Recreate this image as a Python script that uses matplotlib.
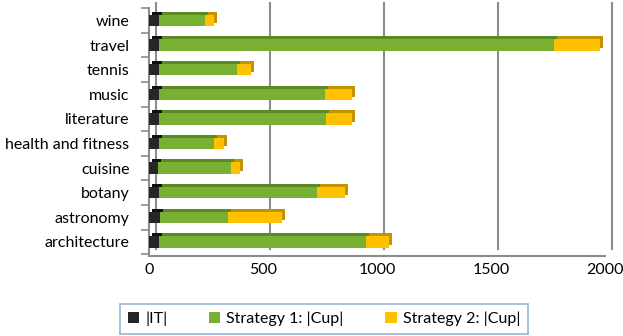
import matplotlib
matplotlib.use("Agg")
import matplotlib.pyplot as plt
import matplotlib.transforms as mtransforms
import numpy as np

categories = ["architecture", "astronomy", "botany", "cuisine", "health and fitness",
              "literature", "music", "tennis", "travel", "wine"]
it_vals = [45, 50, 45, 40, 45, 45, 45, 45, 45, 45]
s1_vals = [907, 296, 692, 318, 240, 732, 728, 342, 1731, 199]
s2_vals = [100, 238, 121, 41, 46, 115, 117, 62, 204, 40]
x_ticks = [0, 500, 1000, 1500, 2000]
series_names = ["|IT|", "Strategy 1: |Cup|", "Strategy 2: |Cup|"]

plt.rcParams['font.family'] = ['Lato', 'DejaVu Sans']

fig = plt.figure(figsize=(6.23, 3.36), dpi=100)
ax = fig.add_axes([0.239, 0.238, 0.732, 0.738])

y = np.arange(len(categories))
h = 0.46
it = np.array(it_vals); s1 = np.array(s1_vals); s2 = np.array(s2_vals)

front = [("#262626", "#111111"), ("#77b032", "#5b8a24"), ("#ffc000", "#c49400")]
lefts = [np.zeros_like(it), it, it + s1]
widths = [it, s1, s2]

back = ax.transData + mtransforms.ScaledTranslation(3/100, 3/100, fig.dpi_scale_trans)
grid_off = ax.transData + mtransforms.ScaledTranslation(7/100, 4/100, fig.dpi_scale_trans)

# back wall gridlines
for xv in x_ticks:
    ax.plot([xv, xv], [-0.45, 9.55], color="#8c8c8c", lw=1.5, transform=grid_off,
            zorder=0.5, clip_on=False)

for (fc, dc), l, w, name in zip(front, lefts, widths, series_names):
    ax.barh(y, w, left=l, height=h, color=dc, transform=back, zorder=2)
for (fc, dc), l, w, name in zip(front, lefts, widths, series_names):
    ax.barh(y, w, left=l, height=h, color=fc, zorder=3, label=name)

ax.set_xlim(0, 2000)
ax.set_ylim(-0.57, 9.47)
ax.set_xticks(x_ticks)
ax.set_yticks(y)
ax.set_yticklabels(categories)
ax.set_yticks(np.arange(-0.5, len(categories), 1.0), minor=True)
ax.tick_params(axis='y', which='major', length=0, pad=14, labelsize=11.5, colors="black")
ax.tick_params(axis='y', which='minor', length=6, color="#8c8c8c", width=1.2)
ax.tick_params(axis='x', length=0, pad=5, labelsize=11.5)
for s in ["top", "right"]:
    ax.spines[s].set_visible(False)
ax.spines["left"].set_color("#8c8c8c")
ax.spines["left"].set_linewidth(1.5)
ax.spines["bottom"].set_color("#8c8c8c")
ax.spines["bottom"].set_linewidth(1.5)

leg = fig.legend(loc="lower center", bbox_to_anchor=(0.52, 0.0), ncol=3, frameon=True,
                 fontsize=11.5, handlelength=0.7, handleheight=0.7, handletextpad=0.4,
                 columnspacing=2.6, fancybox=False, borderpad=0.5, borderaxespad=0.1)
leg.get_frame().set_edgecolor("#7ea1cf")
leg.get_frame().set_linewidth(1.2)

fig.savefig("out.png", dpi=100)
